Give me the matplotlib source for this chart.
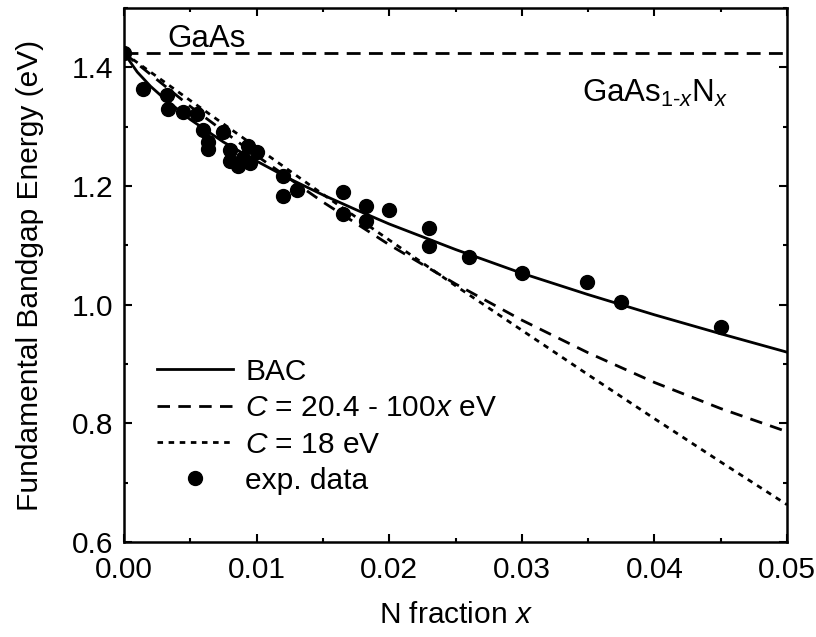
import numpy as np
import matplotlib
matplotlib.use("Agg")
import matplotlib.pyplot as plt
from matplotlib.ticker import MultipleLocator

plt.rcParams['font.family'] = ['Liberation Sans', 'DejaVu Sans']
plt.rcParams['mathtext.fontset'] = 'custom'
plt.rcParams['mathtext.rm'] = 'Liberation Sans'
plt.rcParams['mathtext.it'] = 'Liberation Sans:italic'

x_exp = [0.0, 0.00146, 0.00322, 0.00334, 0.00447, 0.00548, 0.00598, 0.00636, 0.00636,
         0.00749, 0.00799, 0.00799, 0.00862, 0.00900, 0.00937, 0.00950, 0.01001,
         0.01197, 0.01197, 0.01302, 0.0165, 0.0165, 0.01825, 0.01825, 0.0200,
         0.0230, 0.0230, 0.0260, 0.0300, 0.0349, 0.0375, 0.0450]
e_exp = [1.424, 1.364, 1.354, 1.329, 1.324, 1.321, 1.295, 1.274, 1.262,
         1.291, 1.261, 1.242, 1.233, 1.248, 1.267, 1.239, 1.257,
         1.217, 1.183, 1.193, 1.190, 1.153, 1.166, 1.141, 1.160,
         1.130, 1.099, 1.080, 1.054, 1.039, 1.005, 0.963]

# BAC curve
x_bac = [0.0, 0.001, 0.002, 0.003, 0.005, 0.0075, 0.01, 0.0125, 0.015, 0.0175,
         0.02, 0.025, 0.03, 0.035, 0.04, 0.045, 0.05]
e_bac = [1.424, 1.392, 1.368, 1.348, 1.312, 1.274, 1.242, 1.212, 1.185, 1.160,
         1.136, 1.093, 1.053, 1.017, 0.983, 0.951, 0.920]

# bowing curves
x_bow = [0.0, 0.005, 0.01, 0.015, 0.02, 0.025, 0.03, 0.035, 0.04, 0.045, 0.05]
e_cx = [1.424, 1.334, 1.251, 1.173, 1.101, 1.035, 0.974, 0.919, 0.869, 0.825, 0.786]
e_c18 = [1.424, 1.344, 1.265, 1.186, 1.109, 1.032, 0.957, 0.882, 0.808, 0.735, 0.663]

e_gaas = 1.424

fs = 21.5

fig = plt.figure(figsize=(8.16, 6.37), dpi=100)
ax = fig.add_axes([0.152, 0.149, 0.8125, 0.8385])

ax.axhline(e_gaas, color='black', lw=2, dashes=(5, 3))
ax.plot(x_bac, e_bac, color='black', lw=2, label='BAC')
ax.plot(x_bow, e_cx, color='black', lw=2, dashes=(4.5, 3), label='$C$ = 20.4 - 100$x$ eV')
ax.plot(x_bow, e_c18, color='black', lw=2, dashes=(2, 2), label='$C$ = 18 eV')
ax.plot(x_exp, e_exp, 'o', color='black', ms=10, ls='none', label='exp. data')

ax.text(0.0033, 1.434, 'GaAs', fontsize=22.5, va='baseline')
ax.text(0.0345, 1.341, 'GaAs$_{1\\text{-}x}$N$_x$', fontsize=22.5, va='baseline')

ax.set_xlim(0, 0.05)
ax.set_ylim(0.6, 1.5)
ax.set_xticks([0.0, 0.01, 0.02, 0.03, 0.04, 0.05])
ax.set_xticklabels(['0.00', '0.01', '0.02', '0.03', '0.04', '0.05'])
ax.set_yticks([0.6, 0.8, 1.0, 1.2, 1.4])
ax.set_yticklabels(['0.6', '0.8', '1.0', '1.2', '1.4'])
ax.xaxis.set_minor_locator(MultipleLocator(0.005))
ax.yaxis.set_minor_locator(MultipleLocator(0.1))
ax.tick_params(which='both', direction='in', top=True, right=True, width=1.5, labelsize=fs)
ax.tick_params(which='major', length=6)
ax.tick_params(which='minor', length=3)
ax.tick_params(axis='x', pad=10)
ax.tick_params(axis='y', pad=8)
for s in ax.spines.values():
    s.set_linewidth(1.8)

ax.set_xlabel('N fraction $x$', fontsize=fs, labelpad=12)
ax.set_ylabel('Fundamental Bandgap Energy (eV)', fontsize=fs, labelpad=20)

ax.legend(loc='upper left', bbox_to_anchor=(0.05, 0.345), frameon=False, fontsize=fs,
          handlelength=2.55, handletextpad=0.4, labelspacing=0.28, borderpad=0,
          borderaxespad=0, numpoints=1)

fig.savefig('out.png', dpi=100)
